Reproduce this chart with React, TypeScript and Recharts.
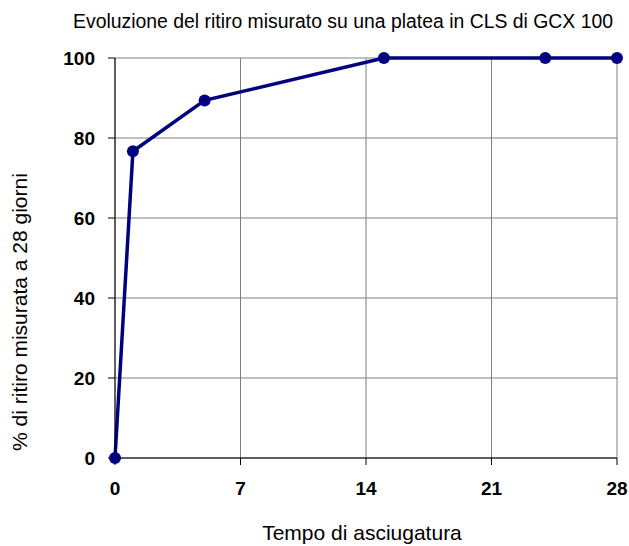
import { LineChart, Line, XAxis, YAxis, CartesianGrid } from 'recharts'

const days = [0, 1, 5, 15, 24, 28]
const shrinkage = [0, 76.7, 89.4, 100, 100, 100]
const xTicks = [0, 7, 14, 21, 28]
const yTicks = [0, 20, 40, 60, 80, 100]

const data = days.map((d, i) => ({ day: d, value: shrinkage[i] }))

const font = 'Arial, "Liberation Sans", sans-serif'
const navy = '#000080'

export default function App() {
  // fixed so the page never scrolls (no scrollbar eating the right edge)
  return (
    <div style={{ position: 'fixed', left: 0, top: 0, width: 629, height: 546, fontFamily: font, background: '#fff' }}>
      <div style={{ position: 'absolute', left: 43, width: 600, top: 10, textAlign: 'center', fontSize: 19.4, whiteSpace: 'nowrap', color: '#000' }}>
        Evoluzione del ritiro misurato su una platea in CLS di GCX 100
      </div>
      <LineChart
        width={629}
        height={546}
        data={data}
        margin={{ top: 58, right: 12, left: 55, bottom: 48 }}
      >
        <CartesianGrid stroke="#808080" strokeWidth={1} horizontalValues={yTicks} verticalValues={xTicks} />
        <XAxis
          dataKey="day"
          type="number"
          domain={[0, 28]}
          ticks={xTicks}
          height={40}
          tickSize={7}
          tickMargin={17}
          stroke="#000"
          tick={{ fill: '#000', fontSize: 19, fontWeight: 'bold', fontFamily: font }}
        />
        <YAxis
          type="number"
          domain={[0, 100]}
          ticks={yTicks}
          width={60}
          tickSize={7}
          tickMargin={13}
          stroke="#000"
          tick={{ fill: '#000', fontSize: 19, fontWeight: 'bold', fontFamily: font }}
        />
        <Line
          dataKey="value"
          stroke={navy}
          strokeWidth={3.5}
          dot={{ r: 6, fill: navy, stroke: navy, strokeWidth: 0 }}
          isAnimationActive={false}
        />
      </LineChart>
      <div style={{ position: 'absolute', left: 162, width: 400, top: 521, textAlign: 'center', fontSize: 21, whiteSpace: 'nowrap', color: '#000' }}>
        Tempo di asciugatura
      </div>
      <div style={{ position: 'absolute', left: 20, top: 312, width: 0, height: 0 }}>
        <div style={{ position: 'absolute', left: -200, top: -12, width: 400, textAlign: 'center', fontSize: 21, color: '#000', transform: 'rotate(-90deg)', whiteSpace: 'nowrap' }}>
          % di ritiro misurata a 28 giorni
        </div>
      </div>
    </div>
  )
}
